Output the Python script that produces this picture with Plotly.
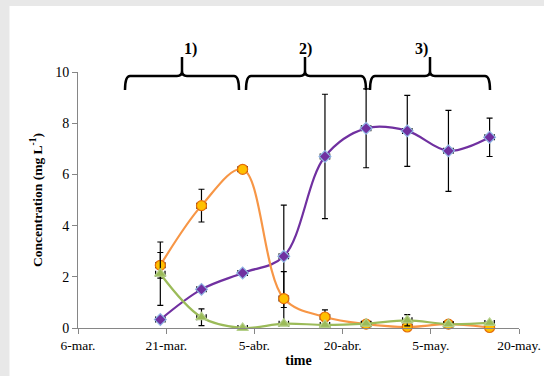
import pandas as pd
import plotly.graph_objects as go

# ---- data ----
dates = ["2017-03-20", "2017-03-27", "2017-04-03", "2017-04-10", "2017-04-17",
         "2017-04-24", "2017-05-01", "2017-05-08", "2017-05-15"]
orange_vals = [2.45, 4.78, 6.20, 1.15, 0.43, 0.15, 0.04, 0.15, 0.02]
orange_err = [0.50, 0.64, 0.08, 1.05, 0.28, 0.05, 0.05, 0.05, 0.05]
green_vals = [2.12, 0.42, 0.00, 0.17, 0.12, 0.17, 0.30, 0.15, 0.20]
green_err = [1.24, 0.33, 0.05, 0.05, 0.05, 0.05, 0.22, 0.05, 0.05]
purple_vals = [0.33, 1.51, 2.15, 2.80, 6.70, 7.80, 7.70, 6.92, 7.45]
purple_err = [0.05, 0.05, 0.05, 2.00, 2.43, 1.54, 1.39, 1.58, 0.75]
date_err_days = 0.8

tick_dates = ["2017-03-06", "2017-03-21", "2017-04-05", "2017-04-20", "2017-05-05", "2017-05-20"]
tick_text = ["6-mar.", "21-mar.", "5-abr.", "20-abr.", "5-may.", "20-may."]
y_ticks = [0, 2, 4, 6, 8, 10]
phase_labels = ["1)", "2)", "3)"]

FONT = "Liberation Serif, Times New Roman, serif"

start = pd.Timestamp(tick_dates[0])
x_days = [(pd.Timestamp(d) - start).days for d in dates]
tick_days = [(pd.Timestamp(d) - start).days for d in tick_dates]

# plot-area geometry (pixels) used to place decorative shapes in paper coords
L_M, R_M, T_M, B_M = 78, 25, 72, 48
W, H = 544, 376
PW, PH = W - L_M - R_M, H - T_M - B_M


def px(x):
    return (x - L_M) / PW


def py(y):
    return (H - B_M - y) / PH


fig = go.Figure()


def add_series(vals, errs, line_color, symbol, fill, outline, size):
    fig.add_trace(go.Scatter(
        x=x_days, y=vals, mode="lines+markers",
        line=dict(color=line_color, width=2.2, shape="spline", smoothing=1),
        marker=dict(symbol=symbol, size=size, color=fill,
                    line=dict(color=outline, width=1.2)),
        error_y=dict(type="data", array=errs, visible=True, color="black",
                     thickness=1.2, width=3),
        error_x=dict(type="constant", value=date_err_days, visible=True,
                     color="black", thickness=1.2, width=3),
        showlegend=False, cliponaxis=False,
    ))


add_series(purple_vals, purple_err, "#7030A0", "diamond", "#7030A0", "#8EB4E3", 9)
add_series(orange_vals, orange_err, "#F79646", "circle", "#FFC000", "#E46C0A", 10)
add_series(green_vals, green_err, "#9BBB59", "triangle-up", "#9BBB59", "#B5D08A", 10)

shapes = []
# gray frame (top and left strips)
shapes.append(dict(type="rect", xref="paper", yref="paper", layer="below",
                   x0=px(9.5), x1=px(W + 5), y0=py(H + 5), y1=py(6),
                   fillcolor="white", line=dict(width=0)))


def brace(Lx, Rx, Tx, yh=76, ye=90, yt=57, r=5):
    p = (f"M {px(Lx)},{py(ye)} Q {px(Lx)},{py(yh)} {px(Lx + r)},{py(yh)} "
         f"L {px(Tx - r)},{py(yh)} Q {px(Tx)},{py(yh)} {px(Tx)},{py(yh - r)} "
         f"L {px(Tx)},{py(yt)} L {px(Tx)},{py(yh - r)} "
         f"Q {px(Tx)},{py(yh)} {px(Tx + r)},{py(yh)} "
         f"L {px(Rx - r)},{py(yh)} Q {px(Rx)},{py(yh)} {px(Rx)},{py(ye)}")
    return dict(type="path", xref="paper", yref="paper", path=p,
                line=dict(color="black", width=2.5))


braces = [(125, 239, 182), (246, 366, 305), (370, 490, 430)]
for b in braces:
    shapes.append(brace(*b))

annotations = []
for (Lx, Rx, Tx), lab in zip(braces, phase_labels):
    annotations.append(dict(x=px(Tx), y=py(38), xref="paper", yref="paper",
                            text=f"<b>{lab}</b>", showarrow=False,
                            font=dict(family=FONT, size=16, color="black")))

fig.update_layout(
    width=W, height=H,
    margin=dict(l=L_M, r=R_M, t=T_M, b=B_M),
    paper_bgcolor="#e8e8e8", plot_bgcolor="white",
    font=dict(family=FONT, size=14, color="black"),
    shapes=shapes, annotations=annotations,
    xaxis=dict(range=[tick_days[0], tick_days[-1]],
               tickvals=tick_days, ticktext=tick_text, automargin=False,
               showgrid=False, zeroline=False, showline=True,
               linecolor="#868686", linewidth=1,
               ticks="outside", ticklen=5, tickcolor="#868686",
               tickfont=dict(family=FONT, size=13.5),
               title=dict(text="<b>time</b>", font=dict(family=FONT, size=14), standoff=2)),
    yaxis=dict(range=[0, 10], tickvals=y_ticks, automargin=False,
               showgrid=False, zeroline=False, showline=True,
               linecolor="#868686", linewidth=1,
               ticks="outside", ticklen=5, tickcolor="#868686",
               tickfont=dict(family=FONT, size=14),
               title=dict(text="<b>Concentration (mg L<sup>-1</sup>)</b>",
                          font=dict(family=FONT, size=13.5), standoff=9)),
)

fig.write_html("out.html", config={"displayModeBar": False},
               post_script="document.body.style.margin='0';document.body.style.overflow='hidden';")
